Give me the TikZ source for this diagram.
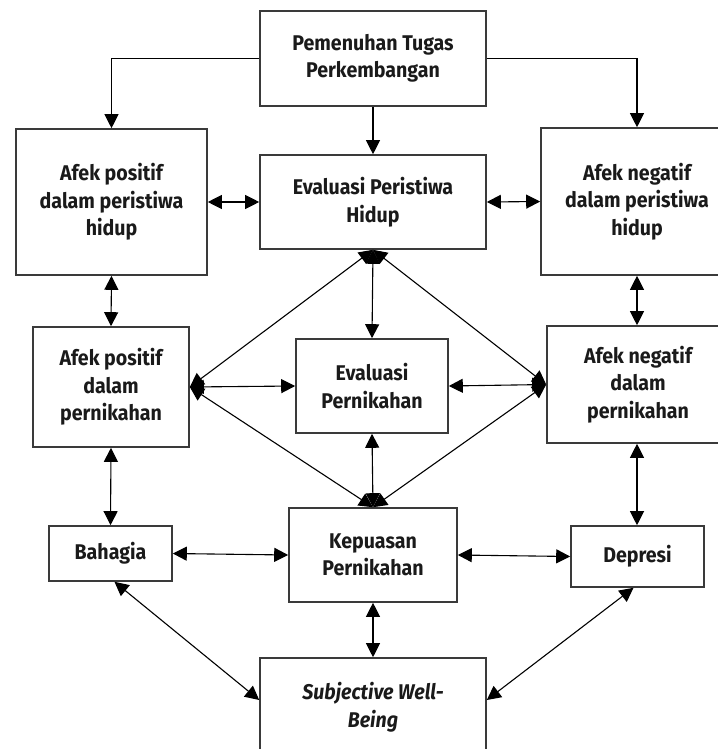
\documentclass[tikz,border=0pt]{standalone}
\usepackage{fontspec}
\setmainfont{Fira Sans}[FakeStretch=0.92, Ligatures=NoCommon]
\usetikzlibrary{arrows.meta}
\definecolor{boxgray}{HTML}{3A3A3A}
\definecolor{textblack}{HTML}{1A1A1A}
\begin{document}
\begin{tikzpicture}[x=1bp,y=-1bp,
  box/.style={draw=boxgray, line width=1.6bp, fill=white, align=center, inner sep=0pt,
    font=\fontsize{21.3bp}{27.5bp}\selectfont\bfseries, text=textblack},
  conn/.style={line width=1.1bp, draw=black},
  onetip/.style={conn, -{Triangle[length=14bp,width=14bp]}},
  twotip/.style={conn, {Triangle[length=14bp,width=14bp]}-{Triangle[length=14bp,width=14bp]}}
]
\useasboundingbox (0,0) rectangle (718,749);
\clip (0,0) rectangle (718,749);
% nodes
\node[box, minimum width=226bp, minimum height=95bp] (top) at (373,58.5) {Pemenuhan Tugas\\Perkembangan};
\node[box, minimum width=191bp, minimum height=146bp] (apeh) at (111.5,202) {Afek positif\\dalam peristiwa\\hidup};
\node[box, minimum width=226bp, minimum height=94bp] (eph) at (373,202) {Evaluasi Peristiwa\\Hidup};
\node[box, minimum width=192bp, minimum height=147bp] (aneh) at (637,201.5) {Afek negatif\\dalam peristiwa\\hidup};
\node[box, minimum width=156bp, minimum height=120bp] (app) at (111,387) {Afek positif\\dalam\\pernikahan};
\node[box, minimum width=152bp, minimum height=94bp] (ep) at (372,386) {Evaluasi\\Pernikahan};
\node[box, minimum width=182bp, minimum height=117bp] (anp) at (638,384.5) {Afek negatif\\dalam\\pernikahan};
\node[box, minimum width=123bp, minimum height=55bp] (bah) at (110.5,553.5) {Bahagia};
\node[box, minimum width=168bp, minimum height=94bp] (kep) at (373,555) {Kepuasan\\Pernikahan};
\node[box, minimum width=133bp, minimum height=61bp] (dep) at (637.5,556.5) {Depresi};
\node[box, minimum width=226bp, minimum height=98bp] (swb) at (373,707) {\itshape Subjective Well-\\\itshape Being};
% connectors
\draw[onetip] (top.west) -| (apeh.north);
\draw[onetip] (top.east) -| (aneh.north);
\draw[onetip] (top.south) -- (eph.north);
\draw[twotip] (apeh.east) -- (eph.west);
\draw[twotip] (eph.east) -- (aneh.west);
\draw[twotip] (apeh.south) -- (app.north);
\draw[twotip] (aneh.south) -- (aneh.south |- anp.north);
\draw[twotip] (eph.south) -- (ep.north);
\draw[twotip] (eph.south) -- (app.east);
\draw[twotip] (eph.south) -- (anp.west);
\draw[twotip] (app.east) -- (ep.west);
\draw[twotip] (ep.east) -- (anp.west);
\draw[twotip] (app.east) -- (kep.north);
\draw[twotip] (anp.west) -- (kep.north);
\draw[twotip] (ep.south) -- (kep.north);
\draw[twotip] (app.south) -- (bah.north);
\draw[twotip] (aneh.south |- anp.south) -- (aneh.south |- dep.north);
\draw[twotip] (bah.east) -- (kep.west);
\draw[twotip] (kep.east) -- (dep.west);
\draw[twotip] (kep.south) -- (swb.north);
\draw[twotip] ([xshift=4bp]bah.south) -- ([yshift=7bp]swb.west);
\draw[twotip] ([xshift=-4bp]dep.south) -- ([yshift=7bp]swb.east);
\end{tikzpicture}
\end{document}
